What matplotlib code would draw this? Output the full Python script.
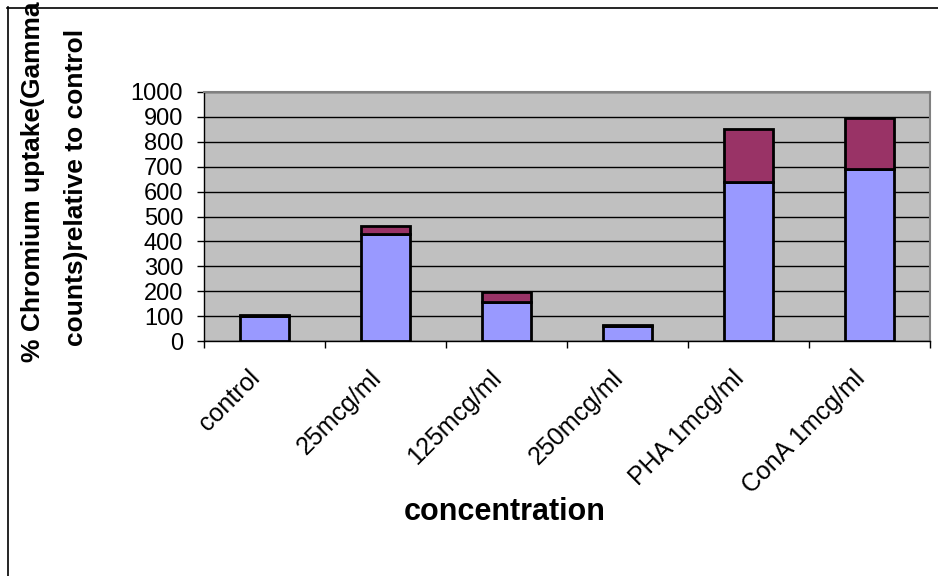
import matplotlib
matplotlib.use("Agg")
import matplotlib.pyplot as plt
from matplotlib.lines import Line2D
import numpy as np

categories = ["control", "25mcg/ml", "125mcg/ml", "250mcg/ml", "PHA 1mcg/ml", "ConA 1mcg/ml"]
series_blue = [100, 430, 158, 60, 640, 692]
series_maroon = [6, 33, 40, 3, 210, 203]
yticks = [0, 100, 200, 300, 400, 500, 600, 700, 800, 900, 1000]

plt.rcParams['font.family'] = ['Liberation Sans', 'DejaVu Sans']

W, H = 938, 576
fig = plt.figure(figsize=(W / 100, H / 100), dpi=100)
ax = fig.add_axes([204 / W, 1 - 341 / H, (930 - 204) / W, (341 - 92) / H])
ax.set_facecolor('#C0C0C0')

x = np.arange(len(categories))
ax.bar(x, series_blue, width=0.4, color='#9999FF', edgecolor='black', linewidth=2.0, zorder=3)
ax.bar(x, series_maroon, width=0.4, bottom=series_blue, color='#993366', edgecolor='black',
       linewidth=2.0, zorder=3)

ax.set_xlim(-0.5, len(categories) - 0.5)
ax.set_ylim(0, 1000)
ax.set_yticks(yticks)
ax.set_yticklabels([str(v) for v in yticks], fontsize=17)
ax.yaxis.grid(True, color='black', linewidth=1.0, zorder=1)
ax.set_axisbelow(True)

ax.set_xticks(np.arange(-0.5, len(categories), 1.0))
ax.set_xticklabels([])
ax.tick_params(axis='x', direction='out', length=5, width=1, color='black')
ax.tick_params(axis='y', direction='out', length=5, width=1, color='black', pad=10)

for i, lab in enumerate(categories):
    ax.annotate(lab, xy=(i, 0), xycoords=('data', 'data'), xytext=(-6, -24),
                textcoords='offset points', rotation=45, rotation_mode='anchor',
                ha='right', va='center', fontsize=18)

for s in ['top', 'right']:
    ax.spines[s].set_color('#808080')
    ax.spines[s].set_linewidth(1.5)
for s in ['left', 'bottom']:
    ax.spines[s].set_color('black')
    ax.spines[s].set_linewidth(1.0)

fig.text(505 / W, 1 - 512 / H, "concentration", fontsize=22, fontweight='bold',
         ha='center', va='center')
fig.text(33 / W, 1 - 182 / H, "% Chromium uptake(Gamma", fontsize=19, fontweight='bold',
         rotation=90, ha='center', va='center')
fig.text(76 / W, 1 - 187 / H, "counts)relative to control", fontsize=19, fontweight='bold',
         rotation=90, ha='center', va='center')

fig.add_artist(Line2D([7 / W, 1.0], [1 - 7.5 / H, 1 - 7.5 / H], transform=fig.transFigure,
                      color='black', linewidth=1.2))
fig.add_artist(Line2D([7.5 / W, 7.5 / W], [0.0, 1 - 7 / H], transform=fig.transFigure,
                      color='black', linewidth=1.2))

fig.savefig('out.png', dpi=100)
